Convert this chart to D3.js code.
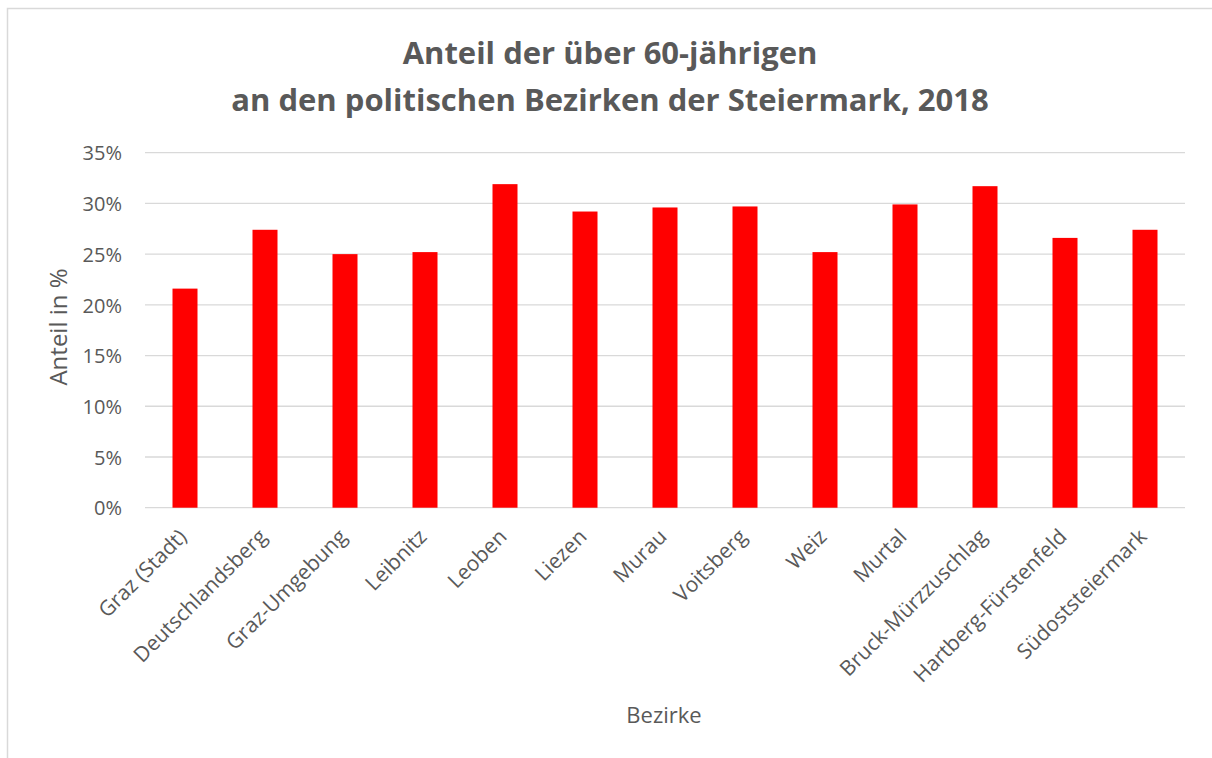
<!DOCTYPE html>
<html>
<head>
<meta charset="utf-8">
<script src="https://cdn.jsdelivr.net/npm/d3@7"></script>
<style>
  html, body { margin: 0; padding: 0; background: #fff; }
  svg { display: block; }
  text { font-family: "Open Sans", "Noto Sans", sans-serif; fill: #595959; }
</style>
</head>
<body>
<svg id="chart" width="1212" height="758"></svg>
<script>
const categories = ["Graz (Stadt)", "Deutschlandsberg", "Graz-Umgebung", "Leibnitz", "Leoben", "Liezen", "Murau", "Voitsberg", "Weiz", "Murtal", "Bruck-Mürzzuschlag", "Hartberg-Fürstenfeld", "Südoststeiermark"];
const values = [0.216, 0.274, 0.250, 0.252, 0.319, 0.292, 0.296, 0.297, 0.252, 0.299, 0.317, 0.266, 0.274];
const yTicks = [0, 0.05, 0.10, 0.15, 0.20, 0.25, 0.30, 0.35];
const titleLines = ["Anteil der über 60-jährigen", "an den politischen Bezirken der Steiermark, 2018"];
const xTitle = "Bezirke";
const yTitle = "Anteil in %";

const svg = d3.select("#chart");
svg.append("rect").attr("x", 0).attr("y", 0).attr("width", 1212).attr("height", 758).attr("fill", "#fff");
svg.append("rect").attr("x", 7.5).attr("y", 8.5).attr("width", 1220).attr("height", 770)
  .attr("fill", "none").attr("stroke", "#d9d9d9").attr("stroke-width", 1.5);

const x = d3.scaleBand().domain(categories).range([145, 1185]).paddingInner(0.6875).paddingOuter(0.34375);
const y = d3.scaleLinear().domain([0, 0.35]).range([507.7, 152.7]);

// gridlines
svg.append("g").selectAll("line").data(yTicks).join("line")
  .attr("x1", 145).attr("x2", 1185)
  .attr("y1", d => y(d)).attr("y2", d => y(d))
  .attr("stroke", "#d9d9d9").attr("stroke-width", 1.3);

// y axis via d3.axisLeft
const yAxis = d3.axisLeft(y).tickValues(yTicks).tickFormat(d3.format(".0%")).tickSize(0).tickPadding(0);
const gy = svg.append("g").attr("transform", "translate(122,0)").call(yAxis);
gy.attr("font-size", null).attr("font-family", null);
gy.select(".domain").remove();
gy.selectAll("text").style("font-size", "20px").attr("fill", "#595959")
  .style("font-family", '"Open Sans", sans-serif').attr("dy", "0.36em");

// bars
svg.append("g").selectAll("rect").data(values).join("rect")
  .attr("x", (d, i) => x(categories[i]))
  .attr("width", x.bandwidth())
  .attr("y", d => y(d))
  .attr("height", d => y(0) - y(d))
  .attr("fill", "#ff0000");

// x labels
const xAxis = d3.axisBottom(x).tickSize(0).tickPadding(0);
const gx = svg.append("g").call(xAxis);
gx.attr("font-size", null).attr("font-family", null);
gx.select(".domain").remove();
gx.selectAll(".tick").attr("transform", null);
gx.selectAll(".tick text")
  .style("font-size", "21px")
  .style("font-family", '"Open Sans", sans-serif')
  .attr("fill", "#595959")
  .attr("text-anchor", "end")
  .attr("dy", null).attr("y", null)
  .attr("transform", d => `translate(${x(d) + x.bandwidth() / 2 + 3},538) rotate(-45)`);

// titles
const t = svg.append("text").attr("text-anchor", "middle").attr("font-weight", "bold")
  .style("font-size", "31px").attr("fill", "#595959");
t.append("tspan").attr("x", 610).attr("y", 64).text(titleLines[0]);
t.append("tspan").attr("x", 610).attr("y", 111).text(titleLines[1]);

svg.append("text").attr("x", 664).attr("y", 723).attr("text-anchor", "middle")
  .style("font-size", "22px").text(xTitle);
svg.append("text").attr("transform", "translate(67,327) rotate(-90)").attr("text-anchor", "middle")
  .style("font-size", "24px").text(yTitle);
</script>
</body>
</html>
